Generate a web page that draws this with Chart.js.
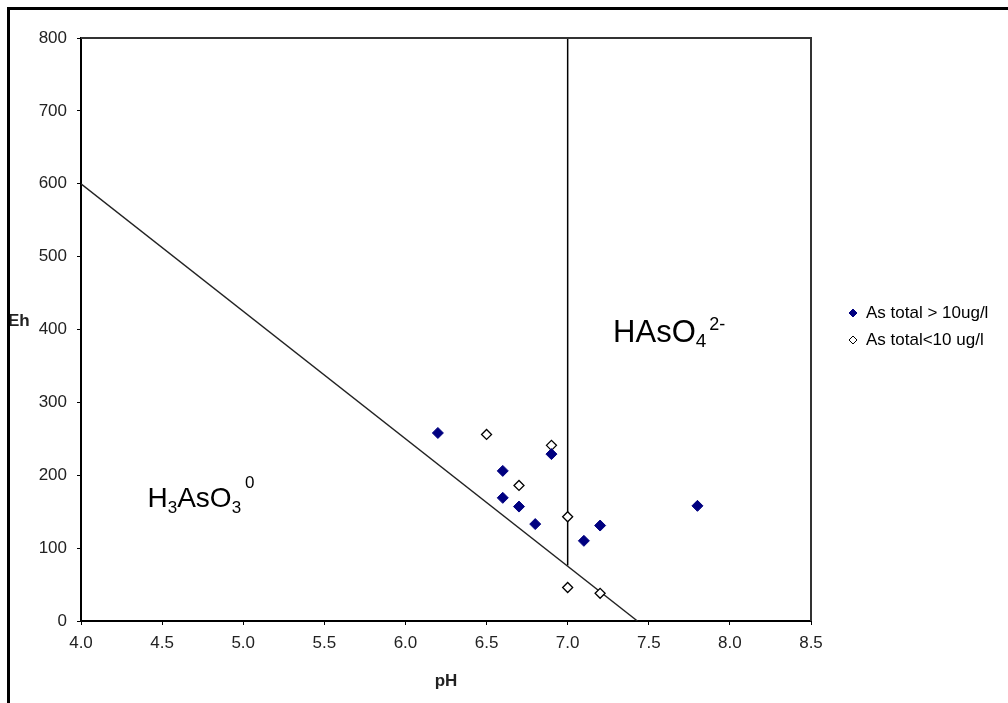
<!DOCTYPE html>
<html>
<head>
<meta charset="utf-8">
<title>Eh - pH</title>
<script src="https://cdn.jsdelivr.net/npm/chart.js@4.4.0/dist/chart.umd.min.js"></script>
<style>
  html, body { margin: 0; padding: 0; background: #fff; overflow: hidden; }
  #wrap { position: relative; width: 1008px; height: 703px; }
  #frame { position: absolute; left: 7px; top: 7px; width: 1100px; height: 800px;
           border-top: 3px solid #000; border-left: 3px solid #000; pointer-events: none; }
</style>
</head>
<body>
<div id="wrap">
  <canvas id="ehph"></canvas>
  <div id="frame"></div>
</div>
<script>
const FONT = '"Liberation Sans", Arial, Helvetica, sans-serif';
const TEXT_COLOR = '#222';

// samples with As total > 10 ug/l
const highPH = [6.2, 6.6, 6.6, 6.7, 6.8, 6.9, 7.1, 7.2, 7.8];
const highEh = [258, 206, 169, 157, 133, 229, 110, 131, 158];

// samples with As total < 10 ug/l
const lowPH = [6.5, 6.9, 6.7, 7.0, 7.0, 7.2];
const lowEh = [256, 241, 186, 143, 46, 38];

// stability field boundaries
const diagPH = [4.0, 7.43];
const diagEh = [600, 0];
const vertPH = [7.0, 7.0];
const vertEh = [800, 76];

const seriesNames = ['As total > 10ug/l', 'As total<10 ug/l'];

function toPoints(xs, ys) {
    return xs.map((x, i) => ({ x: x, y: ys[i] }));
}

// species labels, anchored in data units (pH, Eh) at the baseline start
const REGION_LABELS = [
    { pH: 4.41, Eh: 156, parts: [['H', 28, 0, 0], ['3', 17, 6, 0], ['AsO', 28, 0, 0], ['3', 17, 6, 0], ['0', 17, -19, 4]] },
    { pH: 7.28, Eh: 383, parts: [['HAsO', 31, 0, 0], ['4', 19, 5, 0], ['2-', 18, -12, 3]] }
];

const extras = {
    id: 'extras',
    afterDraw(chart) {
        const ctx = chart.ctx;
        const area = chart.chartArea;
        const xs = chart.scales.x;
        const ys = chart.scales.y;
        ctx.save();

        // top and right edge of the plot box
        ctx.strokeStyle = '#333';
        ctx.lineWidth = 2;
        ctx.beginPath();
        ctx.moveTo(area.left, area.top);
        ctx.lineTo(area.right, area.top);
        ctx.lineTo(area.right, area.bottom);
        ctx.stroke();

        // species labels
        ctx.fillStyle = '#000';
        ctx.textAlign = 'left';
        ctx.textBaseline = 'alphabetic';
        REGION_LABELS.forEach(lbl => {
            let x = xs.getPixelForValue(lbl.pH);
            const y = ys.getPixelForValue(lbl.Eh);
            lbl.parts.forEach(p => {
                ctx.font = p[1] + 'px ' + FONT;
                x += p[3];
                ctx.fillText(p[0], x, y + p[2]);
                x += ctx.measureText(p[0]).width;
            });
        });

        // y axis title, sits up against the page frame
        ctx.font = 'bold 17px ' + FONT;
        ctx.textBaseline = 'middle';
        ctx.fillStyle = TEXT_COLOR;
        ctx.fillText('Eh', 8, 321);

        // legend
        const rows = [313, 340];
        ctx.font = '17px ' + FONT;
        chart.data.datasets.slice(0, 2).forEach((ds, i) => {
            ctx.fillStyle = ds.backgroundColor;
            ctx.strokeStyle = ds.borderColor;
            ctx.lineWidth = 1;
            Chart.helpers.drawPoint(ctx, { pointStyle: 'rectRot', radius: 4, borderWidth: 1, rotation: 0 }, 853, rows[i]);
            ctx.fillStyle = '#000';
            ctx.fillText(ds.label, 866, rows[i]);
        });
        ctx.restore();
    }
};

new Chart(document.getElementById('ehph'), {
    type: 'scatter',
    data: {
        datasets: [
            {
                label: seriesNames[0],
                data: toPoints(highPH, highEh),
                pointStyle: 'rectRot',
                pointRadius: 5.5,
                backgroundColor: '#000080',
                borderColor: '#000080',
                borderWidth: 1
            },
            {
                label: seriesNames[1],
                data: toPoints(lowPH, lowEh),
                pointStyle: 'rectRot',
                pointRadius: 5,
                backgroundColor: '#fff',
                borderColor: '#000',
                borderWidth: 1.3
            },
            {
                label: 'boundary',
                data: toPoints(diagPH, diagEh),
                showLine: true,
                pointRadius: 0,
                borderColor: '#222',
                borderWidth: 1.4
            },
            {
                label: 'boundary',
                data: toPoints(vertPH, vertEh),
                showLine: true,
                pointRadius: 0,
                borderColor: '#000',
                borderWidth: 1.5
            }
        ]
    },
    options: {
        responsive: true,
        maintainAspectRatio: false,
        animation: false,
        events: [],
        layout: {
            padding: { top: 38, right: 197, left: 0, bottom: 0 }
        },
        plugins: {
            legend: { display: false },
            tooltip: { enabled: false }
        },
        scales: {
            x: {
                type: 'linear',
                min: 4,
                max: 8.5,
                afterFit: function (scale) { scale.height = 82; },
                ticks: {
                    stepSize: 0.5,
                    padding: 8,
                    color: TEXT_COLOR,
                    font: { family: FONT, size: 17 },
                    callback: v => v.toFixed(1)
                },
                grid: { drawOnChartArea: false, drawTicks: true, tickLength: 4, color: '#000' },
                border: { display: true, color: '#000', width: 2 },
                title: {
                    display: true,
                    text: 'pH',
                    color: TEXT_COLOR,
                    font: { family: FONT, size: 17, weight: 'bold' },
                    padding: { top: 0, bottom: 11 }
                }
            },
            y: {
                min: 0,
                max: 800,
                afterFit: function (scale) { scale.width = 81; },
                ticks: {
                    stepSize: 100,
                    padding: 10,
                    color: TEXT_COLOR,
                    font: { family: FONT, size: 17 }
                },
                grid: { drawOnChartArea: false, drawTicks: true, tickLength: 4, color: '#000' },
                border: { display: true, color: '#000', width: 2 }
            }
        }
    },
    plugins: [extras]
});
</script>
</body>
</html>
